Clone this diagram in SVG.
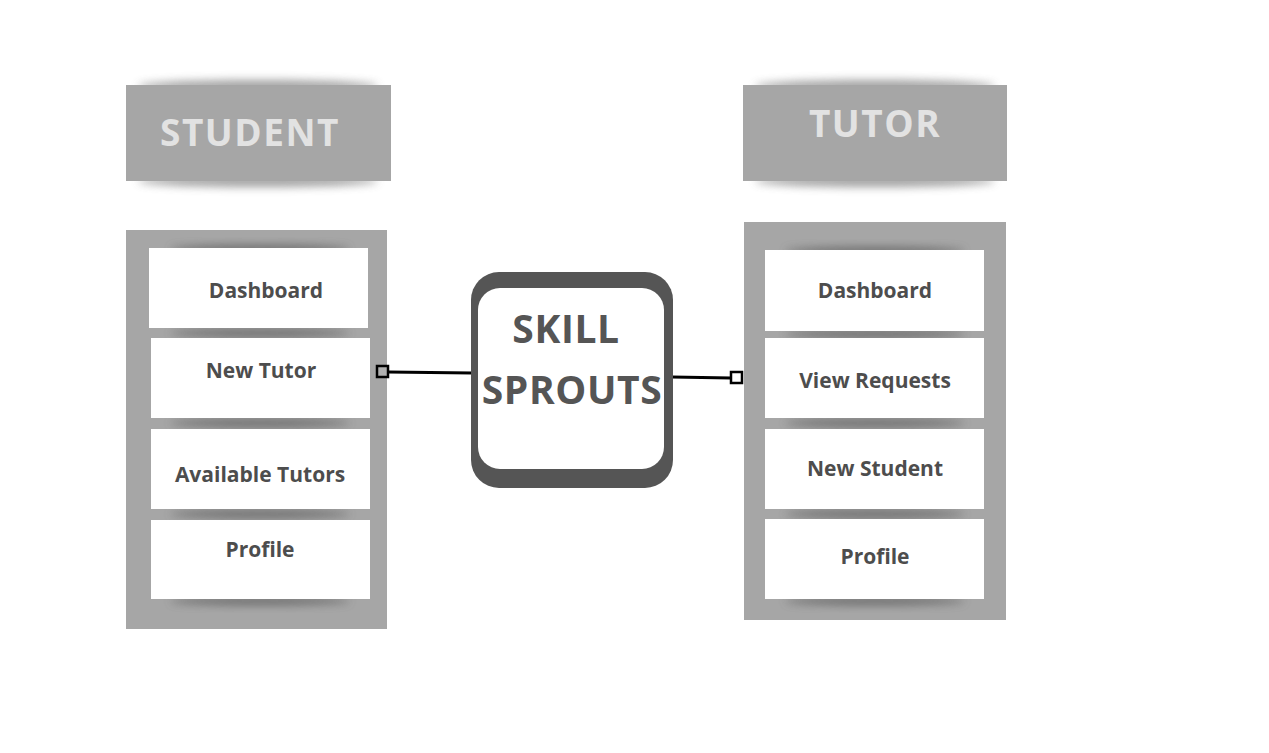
<svg xmlns="http://www.w3.org/2000/svg" width="1269" height="753" viewBox="0 0 1269 753">
<defs>
<filter id="blur2" x="-20%" y="-100%" width="140%" height="300%"><feGaussianBlur stdDeviation="4"/></filter>
</defs>
<style>
.hdr{fill:#a6a6a6}
.hdrtxt{font-family:"Open Sans","DejaVu Sans",sans-serif;font-weight:700;font-size:37px;letter-spacing:1.5px;fill:#e2e2e2;text-anchor:middle}
.panel{fill:#a6a6a6}
.item{fill:#ffffff}
.shadow{fill:#5a5a5a;opacity:0.75}
.hshadow{fill:#8a8a8a;opacity:0.8}
.itxt{font-family:"Open Sans","DejaVu Sans",sans-serif;font-weight:700;font-size:21px;fill:#4d4d4d;text-anchor:middle}
.ctxt{font-family:"Open Sans","DejaVu Sans",sans-serif;font-weight:700;font-size:39px;letter-spacing:0.6px;fill:#555555;text-anchor:middle}
.conn{stroke:#000;stroke-width:3;fill:none}
</style>
<rect width="1269" height="753" fill="#ffffff"/>

<g id="student-header">
<ellipse class="hshadow" cx="258" cy="86" rx="120" ry="6" filter="url(#blur2)"/>
<ellipse class="hshadow" cx="258" cy="181" rx="120" ry="6" filter="url(#blur2)"/>
<rect class="hdr" x="126" y="85" width="265" height="96"/>
<text class="hdrtxt" x="250" y="146">STUDENT</text>
</g>

<g id="tutor-header">
<ellipse class="hshadow" cx="875" cy="86" rx="120" ry="6" filter="url(#blur2)"/>
<ellipse class="hshadow" cx="875" cy="181" rx="120" ry="6" filter="url(#blur2)"/>
<rect class="hdr" x="743" y="85" width="264" height="96"/>
<text class="hdrtxt" x="875" y="137">TUTOR</text>
</g>

<g id="student-panel">
<rect class="panel" x="126" y="230" width="261" height="399"/>
<ellipse class="shadow" cx="260" cy="249" rx="90" ry="4" filter="url(#blur2)"/>
<ellipse class="shadow" cx="260" cy="333" rx="90" ry="4" filter="url(#blur2)"/>
<ellipse class="shadow" cx="260" cy="423" rx="90" ry="4" filter="url(#blur2)"/>
<ellipse class="shadow" cx="260" cy="514" rx="90" ry="4" filter="url(#blur2)"/>
<ellipse class="shadow" cx="260" cy="601" rx="90" ry="4" filter="url(#blur2)"/>
<g id="s-dashboard"><rect class="item" x="149" y="248" width="219" height="80"/><text class="itxt" x="266" y="298">Dashboard</text></g>
<g id="s-newtutor"><rect class="item" x="151" y="338" width="219" height="80"/><text class="itxt" x="261" y="378">New Tutor</text></g>
<g id="s-available"><rect class="item" x="151" y="429" width="219" height="80"/><text class="itxt" x="260" y="482">Available Tutors</text></g>
<g id="s-profile"><rect class="item" x="151" y="520" width="219" height="79"/><text class="itxt" x="260" y="557">Profile</text></g>
</g>

<g id="tutor-panel">
<rect class="panel" x="744" y="222" width="262" height="398"/>
<ellipse class="shadow" cx="875" cy="251" rx="90" ry="4" filter="url(#blur2)"/>
<ellipse class="shadow" cx="875" cy="334" rx="90" ry="4" filter="url(#blur2)"/>
<ellipse class="shadow" cx="875" cy="423" rx="90" ry="4" filter="url(#blur2)"/>
<ellipse class="shadow" cx="875" cy="514" rx="90" ry="4" filter="url(#blur2)"/>
<ellipse class="shadow" cx="875" cy="601" rx="90" ry="4" filter="url(#blur2)"/>
<g id="t-dashboard"><rect class="item" x="765" y="250" width="219" height="81"/><text class="itxt" x="875" y="298">Dashboard</text></g>
<g id="t-viewrequests"><rect class="item" x="765" y="338" width="219" height="80"/><text class="itxt" x="875" y="388">View Requests</text></g>
<g id="t-newstudent"><rect class="item" x="765" y="429" width="219" height="80"/><text class="itxt" x="875" y="476">New Student</text></g>
<g id="t-profile"><rect class="item" x="765" y="519" width="219" height="80"/><text class="itxt" x="875" y="564">Profile</text></g>
</g>

<g id="connectors">
<line class="conn" x1="388" y1="372" x2="472" y2="373"/>
<rect x="377" y="366" width="11" height="11" fill="#b0b0b0" stroke="#000" stroke-width="2.5"/>
<line class="conn" x1="672" y1="377" x2="731" y2="378"/>
<rect x="731" y="372" width="11" height="11" fill="#ffffff" stroke="#000" stroke-width="2.5"/>
</g>

<g id="skill-sprouts">
<rect x="471" y="272" width="202" height="216" rx="28" fill="#555555"/>
<rect x="478" y="288" width="186" height="181" rx="22" fill="#ffffff"/>
<text class="ctxt" x="566" y="343">SKILL</text>
<text class="ctxt" x="572" y="404">SPROUTS</text>
</g>
</svg>
